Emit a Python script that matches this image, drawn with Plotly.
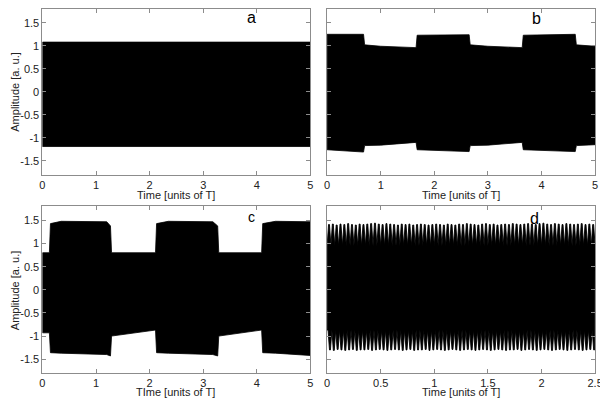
import plotly.graph_objects as go

# ---------------- data ----------------
# Panel a: constant envelope
a_t = [0, 5]
a_upper = [1.08, 1.08]
a_lower = [-1.19, -1.19]

# Panel b: switching envelope (breakpoints)
b_t =     [0.0,  0.68, 0.70, 1.00, 1.66, 1.68, 2.65, 2.67, 3.00, 3.64, 3.66, 4.63, 4.65, 5.00]
b_upper = [1.25, 1.25, 1.02, 0.99, 0.96, 1.23, 1.24, 1.02, 0.99, 0.96, 1.23, 1.25, 1.02, 0.99]
b_lower = [-1.26, -1.31, -1.17, -1.16, -1.10, -1.26, -1.30, -1.17, -1.16, -1.10, -1.26, -1.30, -1.17, -1.15]

# Panel c: switching envelope (breakpoints)
c_t =     [0.0,  0.13, 0.15, 0.35, 1.20, 1.27, 1.29, 2.11, 2.13, 2.35, 3.18, 3.27, 3.29, 4.09, 4.11, 4.35, 5.00]
c_upper = [0.80, 0.80, 1.43, 1.48, 1.47, 1.38, 0.80, 0.80, 1.43, 1.48, 1.47, 1.38, 0.80, 0.80, 1.43, 1.48, 1.47]
c_lower = [-0.93, -0.93, -1.36, -1.37, -1.40, -1.43, -1.00, -0.87, -1.36, -1.37, -1.40, -1.43, -1.00, -0.87, -1.36, -1.37, -1.42]

# Panel d: core band plus periodic spikes
d_t_range = [0, 2.5]
d_core_top = 0.95
d_core_bottom = -0.87
d_top_peaks = [1.41, 1.42, 1.40, 1.42, 1.41, 1.43, 1.41, 1.40, 1.42, 1.41,
               1.42, 1.43, 1.44, 1.42, 1.41, 1.43, 1.42, 1.41, 1.40, 1.42,
               1.41, 1.42, 1.40, 1.41, 1.42, 1.41, 1.40, 1.41, 1.42, 1.41,
               1.40, 1.42, 1.41, 1.40, 1.42, 1.41, 1.43, 1.42, 1.41, 1.40,
               1.42, 1.43, 1.41, 1.42, 1.40, 1.41, 1.42, 1.41, 1.43, 1.42,
               1.41, 1.42, 1.43, 1.42, 1.41, 1.43, 1.44, 1.42, 1.41, 1.43,
               1.42, 1.41, 1.43, 1.42, 1.41, 1.42, 1.43, 1.41, 1.42, 1.41]
d_bottom_peaks = [-1.30, -1.31, -1.29, -1.30, -1.31, -1.30, -1.29, -1.31, -1.30, -1.30,
                  -1.29, -1.31, -1.30, -1.29, -1.30, -1.31, -1.30, -1.29, -1.30, -1.31,
                  -1.30, -1.29, -1.31, -1.30, -1.30, -1.29, -1.31, -1.30, -1.29, -1.30,
                  -1.31, -1.30, -1.29, -1.30, -1.31, -1.30, -1.29, -1.30, -1.31, -1.30,
                  -1.29, -1.30, -1.31, -1.30, -1.29, -1.30, -1.31, -1.30, -1.30, -1.29,
                  -1.31, -1.30, -1.29, -1.30, -1.31, -1.30, -1.29, -1.30, -1.31, -1.30,
                  -1.29, -1.30, -1.31, -1.30, -1.29, -1.30, -1.31, -1.30, -1.29, -1.30]

x_ticks_long = [0, 1, 2, 3, 4, 5]
x_ticks_short = [0, 0.5, 1, 1.5, 2, 2.5]
y_ticks = [-1.5, -1, -0.5, 0, 0.5, 1, 1.5]
y_range = [-1.8, 1.8]
panel_labels = ["a", "b", "c", "d"]
x_titles = ["Time [units of T]", "Time [units of T]", "TIme [units of T]", "Time [units of T]"]
y_title = "Amplitude [a. u.]"

# ---------------- figure ----------------
PAGE_W, PAGE_H = 608, 398
OFF = 8  # default page margin around the plot div
W, H = PAGE_W - OFF, PAGE_H - OFF
FONT = "Liberation Sans, Arial, Helvetica, sans-serif"
fig = go.Figure()


def band(t, up, lo, xa, ya):
    xs = list(t) + list(t)[::-1] + [t[0]]
    ys = list(up) + list(lo)[::-1] + [up[0]]
    fig.add_trace(go.Scatter(x=xs, y=ys, mode="lines", fill="toself",
                             fillcolor="black", line=dict(color="black", width=0.8),
                             xaxis=xa, yaxis=ya, hoverinfo="skip", showlegend=False))


band(a_t, a_upper, a_lower, "x", "y")
band(b_t, b_upper, b_lower, "x2", "y2")
band(c_t, c_upper, c_lower, "x3", "y3")

# panel d: spiky waveform envelope
n = len(d_top_peaks)
P = (d_t_range[1] - d_t_range[0]) / n
w = P * 0.12
ux, uy = [], []
lx, ly = [], []
for i in range(n):
    t0 = d_t_range[0] + i * P
    ux += [t0, t0 + P / 2 - w, t0 + P / 2 + w]
    uy += [d_core_top, d_top_peaks[i], d_top_peaks[i]]
    lx += [t0 + P / 4, t0 + 3 * P / 4 - w, t0 + 3 * P / 4 + w]
    ly += [d_core_bottom, d_bottom_peaks[i], d_bottom_peaks[i]]
ux.append(d_t_range[1]); uy.append(d_core_top)
lx = [d_t_range[0]] + lx + [d_t_range[1]]
ly = [d_core_bottom] + ly + [d_core_bottom]
xs = ux + lx[::-1] + [ux[0]]
ys = uy + ly[::-1] + [uy[0]]
fig.add_trace(go.Scatter(x=xs, y=ys, mode="lines", fill="toself",
                         fillcolor="black", line=dict(color="black", width=0.9),
                         xaxis="x4", yaxis="y4", hoverinfo="skip", showlegend=False))

# panel boxes in page pixels
px_x = [(40, 313), (330, 603)]
px_y = [(8, 174), (206, 373)]


def fx(p):
    return (p - OFF) / W


def fy(p):
    return 1 - (p - OFF) / H


def dom_x(p):
    return [fx(p[0]), fx(p[1])]


def dom_y(p):
    return [fy(p[1]), fy(p[0])]


axis_common = dict(showline=True, linecolor="#8c8c8c", linewidth=1, mirror="ticks",
                   ticks="inside", ticklen=4, tickcolor="#8c8c8c", showgrid=False,
                   zeroline=False, tickfont=dict(family=FONT, size=11, color="#222"))

layout = dict(width=W, height=H, margin=dict(l=0, r=0, t=0, b=0),
              paper_bgcolor="white", plot_bgcolor="white", showlegend=False)

for k in range(4):
    col = k % 2
    row = k // 2
    sx = "" if k == 0 else str(k + 1)
    xr = [0, 2.5] if k == 3 else [0, 5]
    xt = x_ticks_short if k == 3 else x_ticks_long
    layout["xaxis" + sx] = dict(axis_common, domain=dom_x(px_x[col]), range=xr,
                                tickvals=xt, ticktext=[("%g" % v) for v in xt],
                                anchor="y" + sx)
    layout["yaxis" + sx] = dict(axis_common, domain=dom_y(px_y[row]), range=y_range,
                                tickvals=y_ticks, ticktext=[("%g" % v) for v in y_ticks],
                                showticklabels=(col == 0), anchor="x" + sx)

fig.update_layout(**layout)

ann = []
label_pos = [(253, 17), (543, 18), (253, 217), (541, 218)]
for k in range(4):
    x, y = label_pos[k]
    ann.append(dict(x=fx(x), y=fy(y), xref="paper", yref="paper", text=panel_labels[k],
                    showarrow=False, xanchor="center", yanchor="middle",
                    font=dict(family=FONT, size=16 if k != 2 else 14, color="black")))
xt_pos = [(176, 194), (466, 194), (176, 392), (466, 392)]
for k in range(4):
    x, y = xt_pos[k]
    ann.append(dict(x=fx(x), y=fy(y), xref="paper", yref="paper", text=x_titles[k],
                    showarrow=False, xanchor="center", yanchor="middle",
                    font=dict(family=FONT, size=11, color="#222")))
for yc in (91, 290):
    ann.append(dict(x=fx(12), y=fy(yc), xref="paper", yref="paper", text=y_title,
                    showarrow=False, xanchor="center", yanchor="middle", textangle=-90,
                    font=dict(family=FONT, size=11, color="#222")))
fig.update_layout(annotations=ann)

fig.write_html("out.html")
